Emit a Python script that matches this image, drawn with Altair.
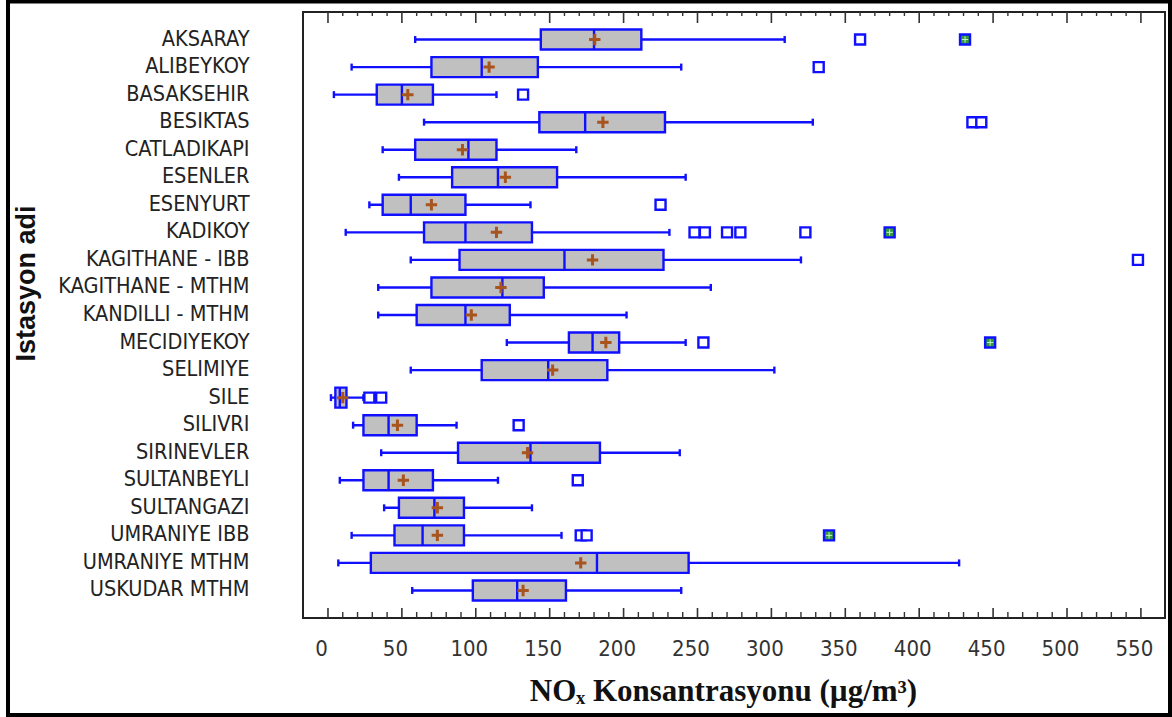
import altair as alt
import pandas as pd

stations = ["AKSARAY", "ALIBEYKOY", "BASAKSEHIR", "BESIKTAS", "CATLADIKAPI", "ESENLER",
            "ESENYURT", "KADIKOY", "KAGITHANE - IBB", "KAGITHANE - MTHM", "KANDILLI - MTHM",
            "MECIDIYEKOY", "SELIMIYE", "SILE", "SILIVRI", "SIRINEVLER", "SULTANBEYLI",
            "SULTANGAZI", "UMRANIYE IBB", "UMRANIYE MTHM", "USKUDAR MTHM"]
whisker_low = [59, 16, 4, 65, 37, 48, 28, 12, 56, 34, 34, 121, 56, 2, 17, 36, 8, 38, 16, 7, 57]
q1 = [144, 70, 33, 143, 59, 84, 37, 65, 89, 70, 60, 163, 104, 5, 24, 88, 24, 48, 45, 29, 98]
median = [180, 104, 50, 174, 95, 115, 56, 93, 160, 118, 93, 179, 149, 8, 41, 137, 41, 72, 64, 182, 128]
q3 = [212, 142, 71, 228, 114, 155, 93, 138, 227, 146, 123, 197, 189, 12.5, 60, 184, 71, 92, 92, 244, 161]
whisker_high = [309, 239, 114, 328, 168, 242, 137, 231, 320, 259, 202, 242, 302, 24, 87, 238, 115, 138, 158, 427, 239]
mean = [180.5, 109, 54, 186, 91, 120, 70, 114, 179, 117, 97, 188, 152, 10, 47, 135, 51, 74, 74, 171, 132]

outlier_station = ["AKSARAY", "ALIBEYKOY", "BASAKSEHIR", "BESIKTAS", "BESIKTAS", "ESENYURT",
                   "KADIKOY", "KADIKOY", "KADIKOY", "KADIKOY", "KADIKOY", "KAGITHANE - IBB",
                   "MECIDIYEKOY", "SILE", "SILE", "SILIVRI", "SULTANBEYLI", "UMRANIYE IBB",
                   "UMRANIYE IBB"]
outlier_value = [360, 332, 132, 436, 442, 225, 248, 255, 270, 279, 323, 548, 254, 28, 36, 129,
                 169, 171, 175]

far_station = ["AKSARAY", "KADIKOY", "MECIDIYEKOY", "UMRANIYE IBB"]
far_value = [431, 380, 448, 339]

major_ticks = [0, 50, 100, 150, 200, 250, 300, 350, 400, 450, 500, 550]
minor_ticks = [v for v in range(10, 550, 10) if v % 50 != 0]

BLUE = "#1010ff"
BROWN = "#a8541e"
GRAY = "#c0c0c0"
NARROW = "Liberation Sans Narrow, Arial Narrow, DejaVu Sans Condensed, Liberation Sans"

box_df = pd.DataFrame({"station": stations, "wlo": whisker_low, "q1": q1, "med": median,
                       "q3": q3, "whi": whisker_high, "mean": mean})
out_df = pd.DataFrame({"station": outlier_station, "v": outlier_value})
far_df = pd.DataFrame({"station": far_station, "v": far_value})
maj_df = pd.DataFrame({"v": major_ticks})
min_df = pd.DataFrame({"v": minor_ticks})

xscale = alt.Scale(domain=[-16.9, 566.3], nice=False, zero=False)
yscale = alt.Scale(domain=stations, padding=1.06)

X = alt.X("wlo:Q", scale=xscale,
          axis=alt.Axis(values=major_ticks, ticks=False, domain=False, grid=False,
                        labelFont=NARROW, labelFontSize=22, labelColor="#333",
                        labelPadding=20, labelOffset=-7,
                        title="NOₓ Konsantrasyonu (µg/m³)",
                        titleFont="Liberation Serif", titleFontSize=31,
                        titleFontWeight="bold", titleColor="#111",
                        titleX=420, titleY=82, titleBaseline="alphabetic",
                        titleAlign="center"))
Y = alt.Y("station:O", scale=yscale, sort=stations,
          axis=alt.Axis(ticks=False, domain=False, labelFont=NARROW, labelFontSize=21.5,
                        labelColor="#222", labelPadding=54, labelLimit=400,
                        title="Istasyon adi", titleFont="Liberation Sans",
                        titleFontSize=27, titleFontWeight="bold", titleColor="#111",
                        titleAngle=270, titleX=-277, titleY=271,
                        titleAlign="center", titleBaseline="middle"))

ys = alt.Y("station:O", scale=yscale, sort=stations)
base = alt.Chart(box_df)

whisk = base.mark_rule(color=BLUE, strokeWidth=2.4).encode(x=X, x2="whi:Q", y=Y)
cap_lo = base.mark_tick(color=BLUE, thickness=2.4, size=7, opacity=1).encode(
    x=alt.X("wlo:Q", scale=xscale), y=ys)
cap_hi = base.mark_tick(color=BLUE, thickness=2.4, size=7, opacity=1).encode(
    x=alt.X("whi:Q", scale=xscale), y=ys)
box = base.mark_bar(fill=GRAY, stroke=BLUE, strokeWidth=2.4, size=20, opacity=1).encode(
    x=alt.X("q1:Q", scale=xscale), x2="q3:Q", y=ys)
med = base.mark_tick(color=BLUE, thickness=2.4, size=21, opacity=1).encode(
    x=alt.X("med:Q", scale=xscale), y=ys)
plus = base.mark_point(shape="M-1,0L1,0M0,-1L0,1", filled=False, stroke=BROWN,
                       strokeWidth=3, size=130, opacity=1).encode(
    x=alt.X("mean:Q", scale=xscale), y=ys)

outl = alt.Chart(out_df).mark_point(shape="square", filled=True, fill="white", stroke=BLUE,
                                    strokeWidth=2.4, size=100, opacity=1).encode(
    x=alt.X("v:Q", scale=xscale), y=ys)
far = alt.Chart(far_df).mark_point(shape="square", filled=True, fill="#2f9a3a", stroke=BLUE,
                                   strokeWidth=2.4, size=100, opacity=1).encode(
    x=alt.X("v:Q", scale=xscale), y=ys)
far_x = alt.Chart(far_df).mark_point(shape="M-1,0L1,0M0,-1L0,1", filled=False,
                                     stroke="#c8f0c8", strokeWidth=1, size=40, opacity=1).encode(
    x=alt.X("v:Q", scale=xscale), y=ys)

tick_col = "#333"
maj_bot = alt.Chart(maj_df).mark_rule(color=tick_col, strokeWidth=1.6).encode(
    x=alt.X("v:Q", scale=xscale), y=alt.value(596), y2=alt.value(606))
maj_top = alt.Chart(maj_df).mark_rule(color=tick_col, strokeWidth=1.6).encode(
    x=alt.X("v:Q", scale=xscale), y=alt.value(0), y2=alt.value(11))
min_bot = alt.Chart(min_df).mark_rule(color=tick_col, strokeWidth=1.4).encode(
    x=alt.X("v:Q", scale=xscale), y=alt.value(600), y2=alt.value(606))
min_top = alt.Chart(min_df).mark_rule(color=tick_col, strokeWidth=1.4).encode(
    x=alt.X("v:Q", scale=xscale), y=alt.value(0), y2=alt.value(4))

border = alt.Chart(pd.DataFrame({"a": [0]})).mark_rect(
    filled=False, stroke="black", strokeWidth=4).encode(
    x=alt.value(-295), x2=alt.value(867), y=alt.value(-10.5), y2=alt.value(703))

chart = alt.layer(
    whisk, cap_lo, cap_hi, box, med, plus, outl, far, far_x,
    maj_bot, maj_top, min_bot, min_top, border
).properties(
    width=862, height=606,
    autosize=alt.AutoSizeParams(type="none"),
    padding={"left": 303, "top": 12, "right": 7, "bottom": 99},
    background="white"
).configure_view(stroke="#222", strokeWidth=2)

chart.save("out.html", embed_options={"renderer": "svg", "actions": False})
